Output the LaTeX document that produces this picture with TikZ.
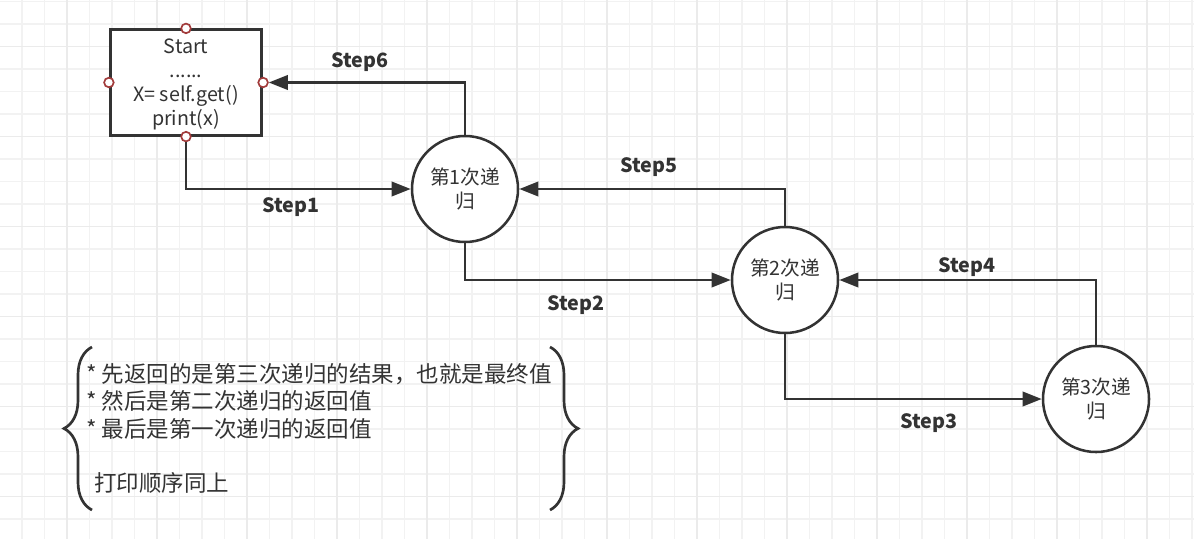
\documentclass[tikz,border=0pt]{standalone}
\usepackage{fontspec}
\setmainfont{Noto Sans CJK SC}
\usetikzlibrary{arrows.meta}
\usetikzlibrary{positioning}
\usetikzlibrary{decorations.pathreplacing}
\definecolor{inkgray}{HTML}{333333}
\definecolor{portred}{HTML}{A23B3B}
\newcommand{\gridminorcolor}[0]{black!5}
\newcommand{\gridmajorcolor}[0]{black!8}

\begin{document}
\begin{tikzpicture}[x=0.025cm, y=-0.025cm,
    recnode/.style={circle, draw=inkgray, line width=1.8pt, fill=white, minimum size=2.65cm,
        inner sep=0pt, align=center, text=inkgray, font=\fontsize{14}{17.5}\selectfont},
    port/.style={circle, draw=portred, line width=1.2pt, fill=white, inner sep=0pt, minimum size=0.24cm},
    steplabel/.style={text=inkgray, font=\fontsize{14}{16}\selectfont\bfseries},
    flow/.style={draw=inkgray, line width=2pt, -{Triangle[length=0.48cm, width=0.36cm]}},
    bracket/.style={draw=inkgray, line width=1.9pt, decorate,
        decoration={brace, amplitude=0.7cm}}]
    \useasboundingbox (0,0) rectangle (1194,539);
    \fill[white] (0,0) rectangle (1194,539);
    % background grid
    \foreach \gx in {22,44.5,...,1194}
        \draw[\gridminorcolor, line width=0.8pt] (\gx,0) -- (\gx,539);
    \foreach \gy in {1.5,24,...,539}
        \draw[\gridminorcolor, line width=0.8pt] (0,\gy) -- (1194,\gy);
    \foreach \gx in {67,157,...,1194}
        \draw[\gridmajorcolor, line width=0.8pt] (\gx,0) -- (\gx,539);
    \foreach \gy in {46.5,136.5,...,539}
        \draw[\gridmajorcolor, line width=0.8pt] (0,\gy) -- (1194,\gy);

    % start block with its ports
    \node[rectangle, draw=inkgray, line width=2.1pt, fill=white, minimum width=3.78cm, minimum height=2.63cm,
        align=center, text=inkgray, font=\fontsize{14}{17}\selectfont, text depth=0pt]
        (start) at (186,82.5) {Start\\......\\X= self.get()\\print(x)};
    \node[port] (start_n) at (start.north) {};
    \node[port] (start_w) at (start.west) {};
    \node[port] (start_e) at (start.east) {};
    \node[port] (start_s) at (start.south) {};

    % recursion levels
    \node[recnode] (rec1) at (465,189) {第1次递\\归};
    \node[recnode] (rec2) at (785,280) {第2次递\\归};
    \node[recnode] (rec3) at (1096,399) {第3次递\\归};

    % calls and returns
    \draw[flow] (start_s.south) |- (rec1.west);
    \draw[flow] (rec1.south) |- (rec2.west);
    \draw[flow] (rec2.south) |- (rec3.west);
    \draw[flow] (rec3.north) |- (rec2.east);
    \draw[flow] (rec2.north) |- (rec1.east);
    \draw[flow] (rec1.north) |- (start_e.east);

    \node[steplabel] (step1) at (291,207) {Step1};
    \node[steplabel] (step2) at (576,305) {Step2};
    \node[steplabel] (step3) at (929,423) {Step3};
    \node[steplabel] (step4) at (967,267) {Step4};
    \node[steplabel] (step5) at (649,167) {Step5};
    \node[steplabel] (step6) at (360,62) {Step6};

    % note between braces
    \coordinate (lbrace_bot) at (92,510);
    \coordinate (lbrace_top) at (92,347);
    \coordinate (rbrace_top) at (550,347);
    \coordinate (rbrace_bot) at (550,510);
    \draw[bracket] (lbrace_bot) -- (lbrace_top);
    \draw[bracket] (rbrace_top) -- (rbrace_bot);
    \node[anchor=north west, align=left, inner sep=0pt, text=inkgray, font=\fontsize{16}{19.5}\selectfont]
        (note) at (86,363)
        {* 先返回的是第三次递归的结果，也就是最终值\\
         * 然后是第二次递归的返回值\\
         * 最后是第一次递归的返回值\\[19.5pt]
         \hspace{0.35em}打印顺序同上};
\end{tikzpicture}
\end{document}
